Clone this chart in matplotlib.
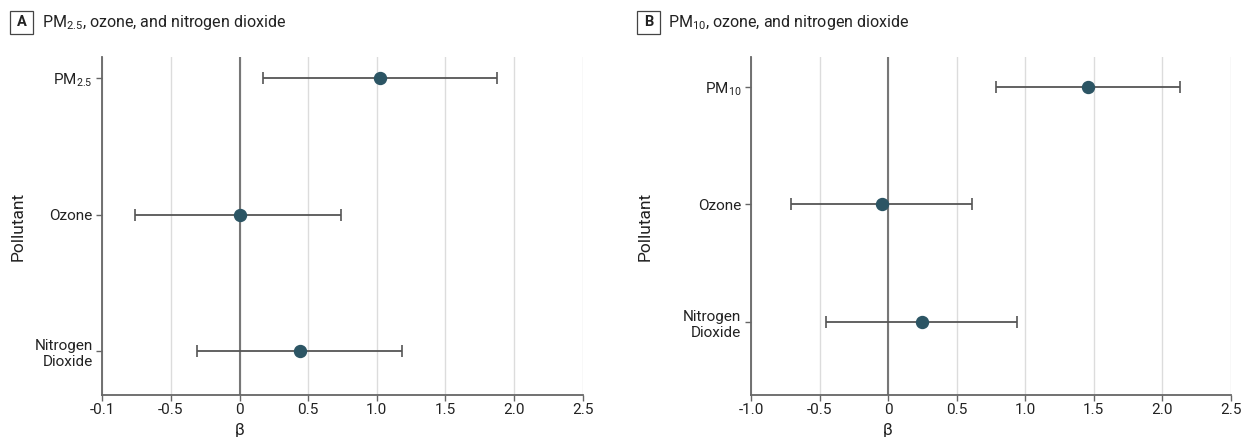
import matplotlib
matplotlib.use("Agg")
import matplotlib.pyplot as plt
from matplotlib.patches import Rectangle

plt.rcParams['font.family'] = ['Roboto', 'DejaVu Sans']
plt.rcParams['mathtext.default'] = 'regular'

# Panel A data
cats_a = ["PM$_{2.5}$", "Ozone", "Nitrogen\nDioxide"]
beta_a = [1.02, 0.00, 0.44]
lo_a = [0.17, -0.76, -0.31]
hi_a = [1.875, 0.74, 1.185]
title_a = "PM$_{2.5}$, ozone, and nitrogen dioxide"

# Panel B data
cats_b = ["PM$_{10}$", "Ozone", "Nitrogen\nDioxide"]
beta_b = [1.46, -0.045, 0.245]
lo_b = [0.79, -0.705, -0.45]
hi_b = [2.13, 0.61, 0.94]
title_b = "PM$_{10}$, ozone, and nitrogen dioxide"

xticks = [-1.0, -0.5, 0, 0.5, 1.0, 1.5, 2.0, 2.5]
xtick_labels_a = ["-0.1", "-0.5", "0", "0.5", "1.0", "1.5", "2.0", "2.5"]
xtick_labels_b = ["-1.0", "-0.5", "0", "0.5", "1.0", "1.5", "2.0", "2.5"]

POINT = "#2c5564"
BAR = "#555555"
AXC = "#666666"
GRID = "#dcdcdc"
TXT = "#222222"

W, H = 1252, 437
fig = plt.figure(figsize=(W / 100, H / 100), dpi=100)

def panel(rect, cats, beta, lo, hi, xlabels, ylim, letter, title, box_x, text_x, ylab_x):
    ax = fig.add_axes(rect)
    ypos = [2, 1, 0]
    xerr = [[b - l for b, l in zip(beta, lo)], [h - b for b, h in zip(beta, hi)]]
    ax.axvline(0, color="#777777", lw=1.5, zorder=1)
    ax.errorbar(beta, ypos, xerr=xerr, fmt='o', color=POINT, ms=8.6,
                ecolor=BAR, elinewidth=1.3, capsize=4.5, capthick=1.2, zorder=3)
    ax.set_xlim(-1.0, 2.5)
    ax.set_ylim(*ylim)
    ax.set_xticks(xticks)
    ax.set_xticklabels(xlabels, fontsize=11)
    ax.set_yticks(ypos)
    ax.set_yticklabels(cats, fontsize=11, ha='right')
    ax.grid(axis='x', color=GRID, lw=1, zorder=0)
    ax.set_axisbelow(True)
    for s in ['top', 'right']:
        ax.spines[s].set_visible(False)
    for s in ['left', 'bottom']:
        ax.spines[s].set_color(AXC)
        ax.spines[s].set_linewidth(1.3)
    ax.tick_params(axis='both', colors=AXC, length=4, width=1, labelcolor=TXT)
    ax.tick_params(axis='x', pad=1.5)
    ax.tick_params(axis='y', pad=3)
    fig.text(rect[0] + rect[2] * (0 + 1.0) / 3.5, 1 - 430 / H, "β", ha='center',
             va='center', fontsize=12, color=TXT)
    fig.text(ylab_x, 0.5 * (rect[1] + rect[1] + rect[3]), "Pollutant", rotation=90,
             ha='center', va='center', fontsize=12.5, color=TXT)
    # letter box
    bx0 = box_x / W
    bw = 23 / W
    by0 = 1 - 34 / H
    bh = 23 / H
    fig.patches.append(Rectangle((bx0, by0), bw, bh, transform=fig.transFigure,
                                 fill=False, ec="#444444", lw=0.9))
    fig.text(bx0 + bw / 2, by0 + bh / 2, letter, ha='center', va='center',
             fontsize=10.5, fontweight='bold', color=TXT)
    fig.text(text_x / W, by0 + bh / 2, title, ha='left', va='center',
             fontsize=11.5, color=TXT)
    return ax

bottom = 1 - 395 / H
top = 1 - 57 / H
panel([102.3 / W, bottom, (582.7 - 102.3) / W, top - bottom],
      cats_a, beta_a, lo_a, hi_a, xtick_labels_a, (-0.32, 2.154), "A", title_a,
      10, 42, 18 / W)
panel([751 / W, bottom, (1230.7 - 751) / W, top - bottom],
      cats_b, beta_b, lo_b, hi_b, xtick_labels_b, (-0.62, 2.253), "B", title_b,
      637, 668, 645 / W)

fig.savefig("out.png", dpi=100)
